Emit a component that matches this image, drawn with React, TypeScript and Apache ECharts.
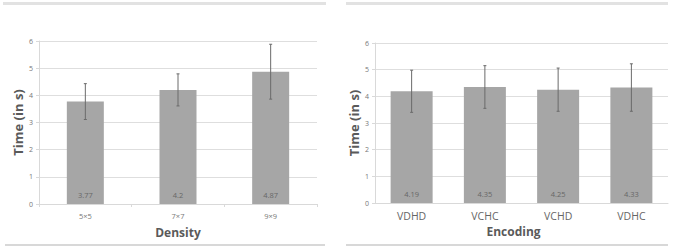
import React, { useEffect, useRef } from "react";
import * as echarts from "echarts";

const densityCats = ["5×5", "7×7", "9×9"];
const densityTimes = [3.77, 4.2, 4.87];
const densityErr = [0.66, 0.59, 1.01];

const encodingCats = ["VDHD", "VCHC", "VCHD", "VDHC"];
const encodingTimes = [4.19, 4.35, 4.25, 4.33];
const encodingErr = [0.79, 0.8, 0.81, 0.89];

const yTicks = [0, 1, 2, 3, 4, 5, 6];

const FONT = "'Open Sans', 'Noto Sans', sans-serif";

function errSeries(idx: number, times: number[], errs: number[]) {
  return {
    type: "custom",
    xAxisIndex: idx,
    yAxisIndex: idx,
    silent: true,
    z: 5,
    data: times.map((v, i) => [i, v - errs[i], v + errs[i]]),
    renderItem: (params: any, api: any) => {
      const lo = api.coord([api.value(0), api.value(1)]);
      const hi = api.coord([api.value(0), api.value(2)]);
      const x = lo[0];
      const style = { stroke: "#6a6a6a", lineWidth: 1 };
      return {
        type: "group",
        children: [
          { type: "line", shape: { x1: x, y1: lo[1], x2: x, y2: hi[1] }, style },
          { type: "line", shape: { x1: x - 1.5, y1: lo[1], x2: x + 1.5, y2: lo[1] }, style },
          { type: "line", shape: { x1: x - 1.5, y1: hi[1], x2: x + 1.5, y2: hi[1] }, style },
        ],
      };
    },
  };
}

export default function App() {
  const ref = useRef<HTMLDivElement>(null);
  useEffect(() => {
    if (!ref.current) return;
    const chart = echarts.init(ref.current, null, { renderer: "svg" });
    const yAxisBase = (idx: number) => ({
      type: "value",
      gridIndex: idx,
      min: 0,
      max: 6,
      interval: 1,
      name: "Time (in s)",
      nameLocation: "middle",
      nameGap: 15,
      nameTextStyle: { fontFamily: FONT, fontSize: 13, fontWeight: "bold", color: "#5a5a5a" },
      axisLine: { show: true, lineStyle: { color: "#d9d9d9" } },
      axisTick: { show: true, length: 3, lineStyle: { color: "#d9d9d9" } },
      axisLabel: {
        fontFamily: FONT,
        fontSize: 7,
        color: "#777",
        margin: 6,
        formatter: (v: number) => (yTicks.includes(v) ? String(v) : ""),
      },
      splitLine: { show: true, lineStyle: { color: "#dedede", width: 1 } },
    });
    chart.setOption({
      animation: false,
      backgroundColor: "#ffffff",
      grid: [
        { left: 39, right: 356, top: 41, bottom: 42 },
        { left: 375, right: 5, top: 43, bottom: 43 },
      ],
      xAxis: [
        {
          type: "category",
          gridIndex: 0,
          data: densityCats,
          name: "Density",
          nameLocation: "middle",
          nameGap: 22,
          nameTextStyle: { fontFamily: FONT, fontSize: 12, fontWeight: "bold", color: "#5a5a5a", verticalAlign: "top" },
          axisLine: { lineStyle: { color: "#d9d9d9" } },
          axisTick: { show: true, length: 3, lineStyle: { color: "#d9d9d9" } },
          axisLabel: { fontFamily: FONT, fontSize: 7.5, color: "#777", margin: 8 },
        },
        {
          type: "category",
          gridIndex: 1,
          data: encodingCats,
          name: "Encoding",
          nameLocation: "middle",
          nameGap: 22,
          nameTextStyle: {
            fontFamily: FONT,
            fontSize: 12,
            fontWeight: "bold",
            color: "#5a5a5a",
            verticalAlign: "top",
            padding: [0, 16, 0, 0],
          },
          axisLine: { lineStyle: { color: "#d9d9d9" } },
          axisTick: { show: false },
          axisLabel: { fontFamily: FONT, fontSize: 10.5, color: "#666", margin: 7 },
        },
      ],
      yAxis: [yAxisBase(0), yAxisBase(1)],
      series: [
        {
          type: "bar",
          xAxisIndex: 0,
          yAxisIndex: 0,
          data: densityTimes,
          barWidth: 37,
          itemStyle: { color: "#a6a6a6" },
          label: {
            show: true,
            position: "insideBottom",
            distance: 5,
            fontFamily: FONT,
            fontSize: 7.5,
            color: "#666",
          },
        },
        errSeries(0, densityTimes, densityErr),
        {
          type: "bar",
          xAxisIndex: 1,
          yAxisIndex: 1,
          data: encodingTimes,
          barWidth: 42,
          itemStyle: { color: "#a6a6a6" },
          label: {
            show: true,
            position: "insideBottom",
            distance: 5,
            fontFamily: FONT,
            fontSize: 7.5,
            color: "#666",
          },
        },
        errSeries(1, encodingTimes, encodingErr),
      ],
      graphic: [
        { type: "rect", shape: { x: 3, y: 2, width: 323, height: 3 }, style: { fill: "#e2e2e2" } },
        { type: "rect", shape: { x: 346, y: 2, width: 322, height: 3 }, style: { fill: "#e2e2e2" } },
        { type: "rect", shape: { x: 5, y: 244, width: 320, height: 2 }, style: { fill: "#d8d8d8" } },
        { type: "rect", shape: { x: 346, y: 244, width: 322, height: 2 }, style: { fill: "#d8d8d8" } },
      ],
    });
    return () => chart.dispose();
  }, []);
  return <div ref={ref} style={{ width: 673, height: 246, position: "absolute", left: 0, top: 0 }} />;
}
